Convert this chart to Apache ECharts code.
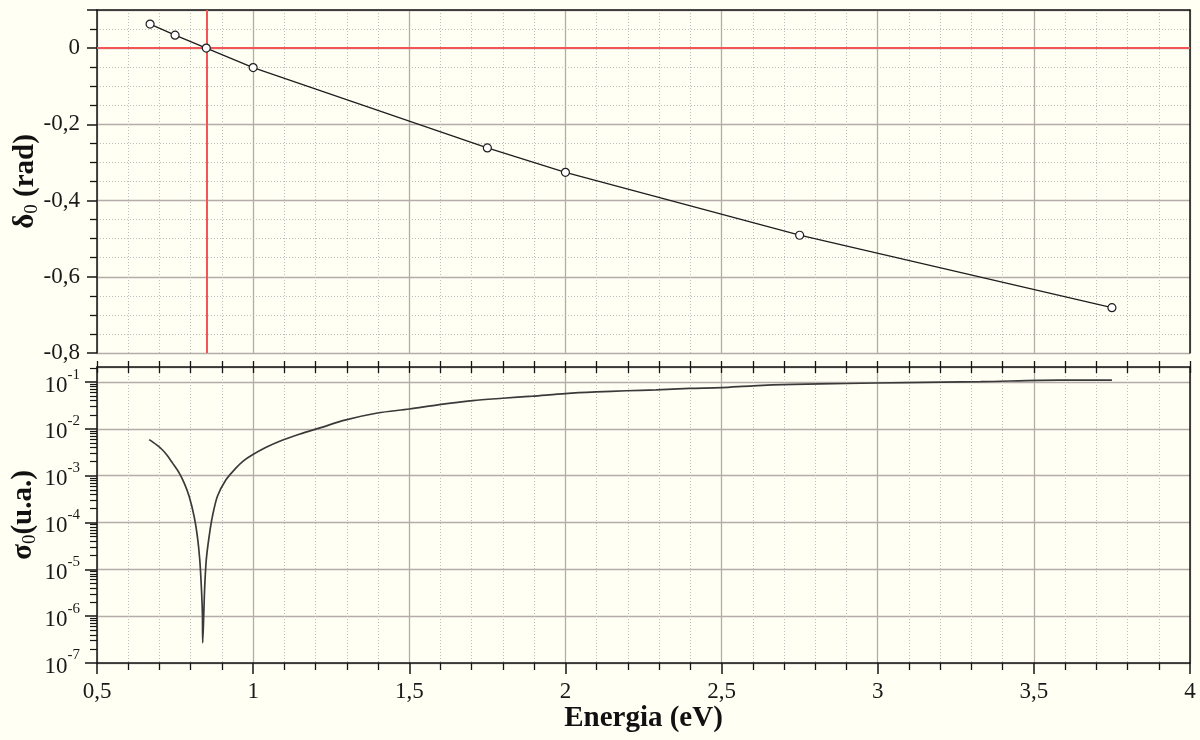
<!DOCTYPE html>
<html>
<head>
<meta charset="utf-8">
<script src="https://cdn.jsdelivr.net/npm/echarts@6/dist/echarts.min.js"></script>
<style>
html,body{margin:0;padding:0;background:#fffff3;}
#chart{width:1200px;height:740px;}
</style>
</head>
<body>
<div id="chart"></div>
<script>
// ---- data ----
const deltaEnergy = [0.67, 0.75, 0.85, 1.0, 1.75, 2.0, 2.75, 3.75];
const deltaValues = [0.063, 0.034, 0.0, -0.051, -0.262, -0.326, -0.491, -0.681];

const sigmaEnergy = [0.667, 0.69, 0.709, 0.725, 0.742, 0.763, 0.78, 0.795, 0.811, 0.8215, 0.829, 0.834, 0.8375, 0.8385,
  0.842, 0.845, 0.850, 0.859, 0.8696, 0.8856, 0.9125, 0.9445, 0.97, 0.998, 1.04, 1.083, 1.15, 1.2115, 1.297,
  1.398, 1.5, 1.596, 1.703, 1.799, 1.895, 2.0, 2.098, 2.194, 2.29, 2.397, 2.5, 2.6, 2.73, 2.9,
  3.09, 3.33, 3.58, 3.75];
const sigmaValues = [5.89e-3, 4.6e-3, 3.59e-3, 2.7e-3, 1.86e-3, 1.15e-3, 6.8e-4, 3.63e-4, 1.35e-4, 5.0e-5, 1.62e-5, 4.4e-6, 1.15e-6, 2.7e-7,
  1.15e-6, 4.4e-6, 1.62e-5, 5.0e-5, 1.35e-4, 3.63e-4, 8.1e-4, 1.45e-3, 2.1e-3, 2.8e-3, 4.0e-3, 5.4e-3, 7.8e-3, 1.04e-2, 1.56e-2,
  2.19e-2, 2.66e-2, 3.31e-2, 4.03e-2, 4.52e-2, 5.01e-2, 5.69e-2, 6.17e-2, 6.53e-2, 6.84e-2, 7.33e-2, 7.59e-2, 8.32e-2, 8.91e-2, 9.33e-2,
  9.77e-2, 0.102, 0.110, 0.110];

const zeroPhase = 0;          // horizontal reference line (rad)
const resonanceEnergy = 0.85; // vertical reference line (eV)

const xMin = 0.5, xMax = 4, xInterval = 0.5;
const deltaMin = -0.8, deltaMax = 0.1, deltaInterval = 0.2;
const sigmaMin = 1e-7, sigmaMax = 0.21;

// minor log ticks (2..9 x 10^n)
const sigmaMinorTicks = [];
for (let n = -7; n <= -1; n++) {
  for (let k = 2; k <= 9; k++) {
    const v = k * Math.pow(10, n);
    if (v <= sigmaMax) sigmaMinorTicks.push(v);
  }
}

// ---- styling ----
const FONT = 'Liberation Serif';
const AXIS_COLOR = '#151515';
const GRID_COLOR = '#b3aca9';
const MINOR_COLOR = '#bcbcbc';
const RED = '#f25555';
const LABEL_SIZE = 23;

const commaFmt = v => String(+(+v).toFixed(2)).replace('.', ',');

const chart = echarts.init(document.getElementById('chart'), null, {renderer: 'canvas'});

const nameRich = {
  d: {fontFamily: FONT, fontSize: 29, fontWeight: 'bold', color: '#111', lineHeight: 32},
  sub: {fontFamily: FONT, fontSize: 19, color: '#111', lineHeight: 18, verticalAlign: 'bottom'}
};

const option = {
  backgroundColor: '#fffff3',
  animation: false,
  grid: [
    {left: 97, right: 10, top: 10, height: 343, outerBoundsMode: 'none'},
    {left: 97, right: 10, top: 367, height: 296, outerBoundsMode: 'none'}
  ],
  xAxis: [
    { // 0: top panel grid lines
      type: 'value', gridIndex: 0, min: xMin, max: xMax, interval: xInterval,
      axisLine: {show: false}, axisTick: {show: false}, axisLabel: {show: false},
      splitLine: {show: true, lineStyle: {color: GRID_COLOR, width: 1.3}},
      minorTick: {show: false, splitNumber: 5},
      minorSplitLine: {show: true, lineStyle: {color: MINOR_COLOR, width: 1, type: [1, 2]}}
    },
    { // 1: top panel top border
      type: 'value', gridIndex: 0, position: 'top', min: xMin, max: xMax,
      axisLine: {show: true, onZero: false, lineStyle: {color: AXIS_COLOR, width: 1.5}},
      axisTick: {show: false}, axisLabel: {show: false}, splitLine: {show: false}
    },
    { // 2: bottom panel main x axis
      type: 'value', gridIndex: 1, min: xMin, max: xMax, interval: xInterval,
      name: 'Energia (eV)', nameLocation: 'middle', nameGap: 41, nameMoveOverlap: false,
      nameTextStyle: {fontFamily: FONT, fontSize: 29, fontWeight: 'bold', color: '#111'},
      axisLine: {show: true, onZero: false, lineStyle: {color: AXIS_COLOR, width: 1.5}},
      axisTick: {show: true, length: 11, lineStyle: {color: AXIS_COLOR, width: 1.5}},
      minorTick: {show: true, splitNumber: 5, length: 7, lineStyle: {color: AXIS_COLOR, width: 1.3}},
      axisLabel: {fontFamily: FONT, fontSize: LABEL_SIZE, color: '#1a1a1a', margin: 17, formatter: commaFmt},
      splitLine: {show: true, lineStyle: {color: GRID_COLOR, width: 1.3}},
      minorSplitLine: {show: true, lineStyle: {color: MINOR_COLOR, width: 1, type: [1, 2]}}
    },
    { // 3: bottom panel top border, ticks outward
      type: 'value', gridIndex: 1, position: 'top', min: xMin, max: xMax, interval: 0.1,
      axisLine: {show: true, onZero: false, lineStyle: {color: AXIS_COLOR, width: 1.5}},
      axisTick: {show: true, length: 6, lineStyle: {color: AXIS_COLOR, width: 1.3}},
      axisLabel: {show: false}, splitLine: {show: false}
    },
    { // 4: bottom panel top border, ticks inward
      type: 'value', gridIndex: 1, position: 'top', min: xMin, max: xMax, interval: 0.1,
      axisLine: {show: false},
      axisTick: {show: true, inside: true, length: 6, lineStyle: {color: AXIS_COLOR, width: 1.3}},
      axisLabel: {show: false}, splitLine: {show: false}
    }
  ],
  yAxis: [
    { // 0: delta axis
      type: 'value', gridIndex: 0, min: deltaMin, max: deltaMax, interval: deltaInterval,
      name: '{d|δ}{sub|0}{d| (rad)}', nameLocation: 'middle', nameGap: 55, nameMoveOverlap: false,
      nameTextStyle: {color: '#111', fontFamily: FONT, rich: nameRich},
      axisLine: {show: true, onZero: false, lineStyle: {color: AXIS_COLOR, width: 1.5}},
      axisTick: {show: true, length: 10, lineStyle: {color: AXIS_COLOR, width: 1.5}},
      minorTick: {show: true, splitNumber: 4, length: 7, lineStyle: {color: AXIS_COLOR, width: 1.3}},
      axisLabel: {fontFamily: FONT, fontSize: LABEL_SIZE, color: '#1a1a1a', margin: 17, showMaxLabel: false, formatter: commaFmt},
      splitLine: {show: true, lineStyle: {color: GRID_COLOR, width: 1.3}},
      minorSplitLine: {show: true, lineStyle: {color: MINOR_COLOR, width: 1, type: [1, 2]}}
    },
    { // 1: top panel right border
      type: 'value', gridIndex: 0, position: 'right', min: deltaMin, max: deltaMax,
      axisLine: {show: true, onZero: false, lineStyle: {color: AXIS_COLOR, width: 1.5}},
      axisTick: {show: false}, axisLabel: {show: false}, splitLine: {show: false}
    },
    { // 2: sigma log axis
      type: 'log', logBase: 10, gridIndex: 1, position: 'left', min: sigmaMin, max: sigmaMax,
      name: '{d|σ}{sub|0}{d|(u.a.)}', nameLocation: 'middle', nameGap: 57, nameMoveOverlap: false,
      nameTextStyle: {color: '#111', fontFamily: FONT, rich: nameRich},
      axisLine: {show: true, onZero: false, lineStyle: {color: AXIS_COLOR, width: 1.5}},
      axisTick: {show: true, length: 12, lineStyle: {color: AXIS_COLOR, width: 1.5}},
      axisLabel: {
        fontFamily: FONT, color: '#1a1a1a', margin: 17, showMaxLabel: false,
        formatter: v => {
          const e = Math.log10(v);
          if (Math.abs(e - Math.round(e)) > 1e-6) return '';
          return '{b|10}{s|' + Math.round(e) + '}';
        },
        rich: {
          b: {fontFamily: FONT, fontSize: LABEL_SIZE, color: '#1a1a1a', lineHeight: 30, verticalAlign: 'bottom'},
          s: {fontFamily: FONT, fontSize: 15, color: '#1a1a1a', lineHeight: 16, verticalAlign: 'top'}
        }
      },
      splitLine: {show: true, lineStyle: {color: GRID_COLOR, width: 1.3}}
    },
    { // 3: minor log ticks
      type: 'log', logBase: 10, gridIndex: 1, position: 'left', min: sigmaMin, max: sigmaMax,
      axisLine: {show: false},
      axisTick: {show: true, length: 7, customValues: sigmaMinorTicks, lineStyle: {color: AXIS_COLOR, width: 1.2}},
      axisLabel: {show: false}, splitLine: {show: false}
    },
    { // 4: bottom panel right border
      type: 'log', logBase: 10, gridIndex: 1, position: 'right', min: sigmaMin, max: sigmaMax,
      axisLine: {show: true, onZero: false, lineStyle: {color: AXIS_COLOR, width: 1.5}},
      axisTick: {show: false}, axisLabel: {show: false}, splitLine: {show: false}
    }
  ],
  series: [
    {
      type: 'line', xAxisIndex: 0, yAxisIndex: 0, z: 5,
      data: deltaEnergy.map((e, i) => [e, deltaValues[i]]),
      symbol: 'circle', symbolSize: 8, showAllSymbol: true,
      lineStyle: {color: '#1e1e1e', width: 1.3},
      itemStyle: {color: '#ffffff', borderColor: '#1e1e1e', borderWidth: 1.2},
      markLine: {
        silent: true, symbol: ['none', 'none'], z: 2,
        label: {show: false},
        lineStyle: {color: RED, width: 2, type: 'solid'},
        data: [{yAxis: zeroPhase}, {xAxis: resonanceEnergy}]
      }
    },
    {
      type: 'line', xAxisIndex: 2, yAxisIndex: 2, z: 5,
      data: sigmaEnergy.map((e, i) => [e, sigmaValues[i]]),
      showSymbol: false, symbol: 'none', smooth: 0.3,
      lineStyle: {color: '#3a3a3a', width: 1.7}
    }
  ]
};
chart.setOption(option);
</script>
</body>
</html>
